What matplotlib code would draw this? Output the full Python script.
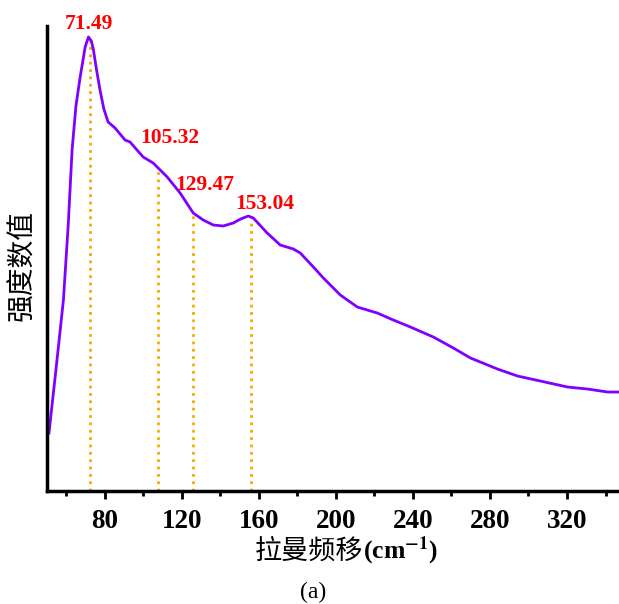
import matplotlib.pyplot as plt
from matplotlib.ticker import MultipleLocator

plt.rcParams['mathtext.fontset'] = 'stix'

# Raman spectrum (arbitrary intensity units)
shift = [51.0, 55.0, 58.5, 61.0, 63.0, 65.0, 67.2, 69.8, 71.5, 73.0, 74.1,
         75.8, 77.5, 79.5, 81.7, 85.3, 90.5, 93.1,
         99.9, 105.1, 107.7, 112.4, 119.1, 125.9, 131.1, 136.3, 141.5, 146.7,
         150.5, 154.5, 157.1, 164.3, 171.1, 177.9, 181.5, 188.3, 193.5, 202.3,
         211.1, 221.5, 229.8, 238.7, 250.6, 261.0, 269.9, 283.9, 294.3, 306.2,
         320.3, 330.7, 341.1, 347.3]
intensity = [58, 128, 191, 266, 341, 385, 414, 444, 454, 450, 441,
             420, 401, 382, 369, 363, 351, 349,
             334, 328, 323, 314, 298, 278, 271, 266, 265, 268,
             272, 275, 273, 258, 246, 242, 238, 224, 213, 196,
             184, 178, 171, 164, 154, 143, 133, 122, 115, 110,
             104, 102, 99, 99]

# marked peaks: where the dotted line sits, its height, and its label
peak_x = [72.3, 107.7, 126.0, 155.7]
peak_top = [454, 323, 278, 274]
peak_labels = ['71.49', '105.32', '129.47', '153.04']
label_x = [71.5, 113.9, 132.1, 163.3]
label_y = [467, 353, 306, 287]

fig = plt.figure(figsize=(6.19, 6.04), dpi=100)
ax = fig.add_axes([0.076, 0.187, 0.924, 0.770])

for x, top in zip(peak_x, peak_top):
    ax.plot([x, x], [0, top], color='#F5A800', linestyle=':', linewidth=2)
ax.plot(shift, intensity, color='#8000FF', linewidth=2)

for x, y, s in zip(label_x, label_y, peak_labels):
    ax.text(x, y, s, ha='center', va='center', color='#FF0000',
            fontsize=15.5, fontweight='bold', family='Liberation Serif',
            clip_on=False)

ax.set_xlim(50, 347)
ax.set_ylim(0, 465)
ax.xaxis.set_major_locator(MultipleLocator(40))
ax.xaxis.set_minor_locator(MultipleLocator(20))
ax.set_yticks([])
ax.spines['top'].set_visible(False)
ax.spines['right'].set_visible(False)
ax.spines['left'].set_linewidth(2.5)
ax.spines['bottom'].set_linewidth(2.5)
ax.tick_params(axis='x', which='major', direction='out', length=6, width=2,
               pad=7, labelsize=19.5)
ax.tick_params(axis='x', which='minor', direction='out', length=3.5, width=2)
for lab in ax.get_xticklabels():
    lab.set_family('Liberation Serif')
    lab.set_fontweight('bold')

fig.text(363 / 619, 1 - 551 / 604, '拉曼频移', ha='right', va='center',
         fontsize=19.5, family='Noto Sans CJK SC', fontweight='light')
fig.text(363 / 619, 1 - 551 / 604, r'(cm$^{\mathbf{-1}}$)', ha='left', va='center',
         fontsize=18.5, family='Liberation Serif', fontweight='bold')
fig.text(22.5 / 619, 1 - 266 / 604, '强度数值', ha='center', va='center',
         rotation=90, fontsize=20, family='Noto Sans CJK SC', fontweight='light')
fig.text(313 / 619, 1 - 592 / 604, '(a)', ha='center', va='center',
         fontsize=17, family='Liberation Serif')

fig.savefig('out.png', dpi=100)
